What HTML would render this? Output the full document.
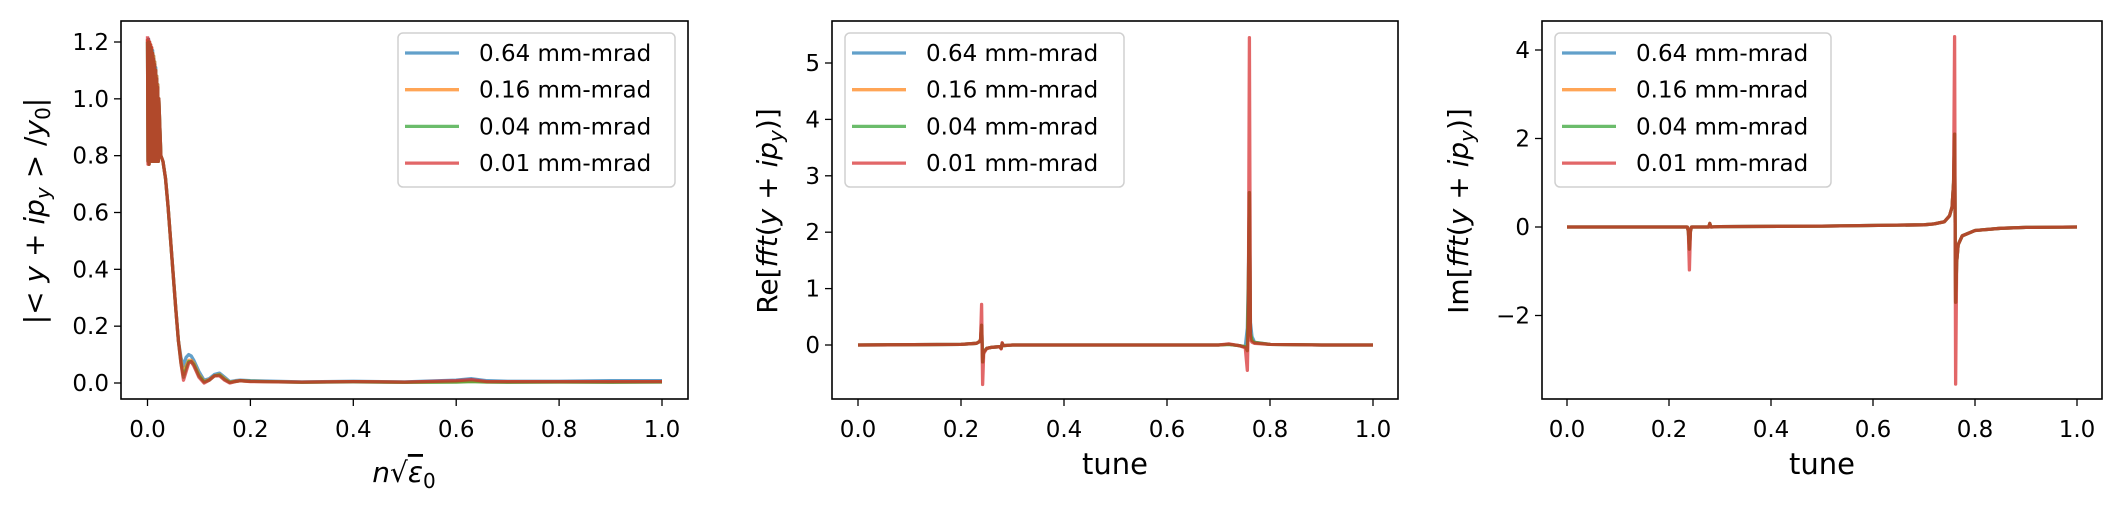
<!DOCTYPE html>
<html><head><meta charset="utf-8">
<style>
body{margin:0;background:#fff;}
svg{display:block;font-family:"DejaVu Sans","Liberation Sans",sans-serif;}
</style></head>
<body>
<svg id="fig" width="2127" height="508" viewBox="0 0 2127 508" xmlns="http://www.w3.org/2000/svg"></svg>
<script>
// ---------- data ----------
const seriesLabels = ["0.64 mm-mrad","0.16 mm-mrad","0.04 mm-mrad","0.01 mm-mrad"];
const seriesColors = ["#1f77b4","#ff7f0e","#2ca02c","#d62728"];

// panel 1: |<y+ip_y>/y0| vs n sqrt(eps0)
const p1X = [0,0.001,0.002,0.003,0.004,0.005,0.006,0.007,0.008,0.009,0.010,0.011,0.012,0.013,0.014,0.015,0.016,0.017,0.018,0.019,0.020,0.021,0.022,0.026,0.030,0.035,0.040,0.045,0.050,0.055,0.060,0.065,0.070,0.075,0.080,0.085,0.090,0.095,0.100,0.110,0.120,0.130,0.140,0.150,0.160,0.170,0.180,0.200,0.300,0.400,0.500,0.600,0.630,0.660,0.700,0.800,0.900,1.000];
const p1Blue   = [1.21,0.78,1.21,0.77,1.2,0.78,1.19,0.78,1.18,0.78,1.17,0.78,1.15,0.78,1.13,0.78,1.11,0.78,1.08,0.78,1.05,0.78,1.0,0.8,0.78,0.72,0.62,0.5,0.38,0.26,0.15,0.09,0.06,0.09,0.1,0.095,0.08,0.06,0.04,0.01,0.015,0.03,0.035,0.02,0.005,0.008,0.01,0.008,0.004,0.006,0.004,0.01,0.015,0.008,0.006,0.006,0.008,0.008];
const p1Orange = [1.21,0.78,1.2,0.77,1.2,0.78,1.19,0.78,1.18,0.78,1.16,0.78,1.15,0.78,1.13,0.78,1.1,0.78,1.08,0.78,1.05,0.78,1.0,0.8,0.78,0.72,0.62,0.5,0.38,0.26,0.15,0.08,0.03,0.06,0.08,0.08,0.07,0.05,0.03,0.005,0.012,0.025,0.03,0.015,0.003,0.006,0.008,0.006,0.003,0.005,0.003,0.004,0.006,0.004,0.004,0.004,0.004,0.005];
const p1Green  = [1.2,0.78,1.2,0.77,1.19,0.78,1.18,0.78,1.17,0.78,1.16,0.78,1.14,0.78,1.12,0.78,1.1,0.78,1.07,0.78,1.04,0.78,1.0,0.8,0.78,0.72,0.62,0.5,0.38,0.26,0.15,0.07,0.02,0.05,0.075,0.075,0.065,0.045,0.025,0.003,0.01,0.025,0.028,0.012,0.002,0.005,0.008,0.006,0.002,0.004,0.002,0.003,0.005,0.003,0.002,0.003,0.002,0.003];
const p1Red    = [1.22,0.77,1.21,0.77,1.2,0.78,1.19,0.78,1.18,0.78,1.16,0.78,1.14,0.78,1.12,0.78,1.1,0.78,1.07,0.78,1.04,0.78,1.0,0.8,0.78,0.72,0.62,0.5,0.38,0.26,0.15,0.07,0.01,0.04,0.07,0.075,0.06,0.04,0.02,0.0,0.01,0.025,0.025,0.01,0.0,0.005,0.008,0.005,0.003,0.005,0.003,0.008,0.012,0.005,0.005,0.005,0.005,0.005];

// panel 2: Re[fft]
const p2X = [0,0.2,0.23,0.236,0.238,0.240,0.242,0.244,0.25,0.26,0.275,0.278,0.28,0.282,0.3,0.5,0.7,0.72,0.74,0.752,0.756,0.758,0.760,0.762,0.765,0.77,0.8,0.9,1.0];
const p2Blue   = [0,0.01,0.03,0.06,0.1,0.35,-0.3,-0.12,-0.06,-0.04,-0.03,-0.06,0.03,-0.01,0,0,0,0.01,-0.01,-0.03,0.3,1.2,2.7,0.4,0.15,0.05,0.01,0,0];
const p2Orange = [0,0.01,0.03,0.06,0.1,0.35,-0.3,-0.12,-0.06,-0.04,-0.03,-0.06,0.03,-0.01,0,0,0,0.01,-0.01,-0.03,-0.1,1.0,2.7,0.2,0.08,0.04,0.01,0,0];
const p2Green  = [0,0.01,0.03,0.06,0.1,0.35,-0.3,-0.12,-0.06,-0.04,-0.03,-0.06,0.03,-0.01,0,0,0,0.01,-0.01,-0.03,-0.1,1.0,2.7,0.2,0.08,0.04,0.01,0,0];
const p2Red    = [0,0.01,0.03,0.06,0.1,0.72,-0.7,-0.15,-0.06,-0.04,-0.03,-0.07,0.04,-0.01,0,0,0,0.02,-0.01,-0.05,-0.45,0.5,5.45,0.1,0.05,0.03,0.01,0,0];

// panel 3: Im[fft]
const p3X = [0,0.2,0.236,0.238,0.240,0.242,0.244,0.26,0.278,0.28,0.282,0.3,0.5,0.7,0.72,0.74,0.75,0.755,0.758,0.760,0.762,0.764,0.767,0.775,0.8,0.85,0.9,1.0];
const p3Blue   = [0,0,0,-0.1,-0.5,-0.1,0,0,0,0.08,0,0.01,0.02,0.05,0.07,0.12,0.25,0.45,1.0,2.1,-1.7,-0.8,-0.4,-0.2,-0.08,-0.03,-0.01,0];
const p3Orange = [0,0,0,-0.1,-0.5,-0.1,0,0,0,0.08,0,0.01,0.02,0.05,0.07,0.12,0.25,0.45,1.0,2.1,-1.7,-0.8,-0.4,-0.2,-0.08,-0.03,-0.01,0];
const p3Green  = [0,0,0,-0.1,-0.5,-0.1,0,0,0,0.08,0,0.01,0.02,0.05,0.07,0.12,0.25,0.45,1.0,2.1,-1.7,-0.8,-0.4,-0.2,-0.08,-0.03,-0.01,0];
const p3Red    = [0,0,0,-0.1,-0.97,-0.1,0,0,0,0.08,0,0.01,0.02,0.05,0.07,0.12,0.25,0.45,1.0,4.3,-3.55,-0.8,-0.4,-0.2,-0.08,-0.03,-0.01,0];

const xTicks = [0,0.2,0.4,0.6,0.8,1.0];
const xTickLabels = ["0.0","0.2","0.4","0.6","0.8","1.0"];
const p1YTicks = [0,0.2,0.4,0.6,0.8,1.0,1.2];
const p1YTickLabels = ["0.0","0.2","0.4","0.6","0.8","1.0","1.2"];
const p2YTicks = [0,1,2,3,4,5];
const p2YTickLabels = ["0","1","2","3","4","5"];
const p3YTicks = [-2,0,2,4];
const p3YTickLabels = ["\u22122","0","2","4"];

// ---------- drawing ----------
const NS = "http://www.w3.org/2000/svg";
const svg = document.getElementById("fig");
function mk(tag, attrs, parent){
  const e = document.createElementNS(NS, tag);
  for (const k in attrs) e.setAttribute(k, attrs[k]);
  (parent||svg).appendChild(e);
  return e;
}

function panel(cfg){
  const g = mk("g", {});
  
  
  const sx = v => cfg.x0 + (v - 0) * (cfg.x1 - cfg.x0);
  const sy = v => cfg.yAt0 - v * cfg.yPerUnit;
  const clip = mk("clipPath", {id: cfg.name + "-clip"}, g);
  mk("rect", {x: cfg.L, y: cfg.T, width: cfg.R - cfg.L, height: cfg.B - cfg.T}, clip);
  cfg.series.forEach((vals, i) => {
    const d = vals.map((v, j) => (j ? "L" : "M") + sx(cfg.xs[j]).toFixed(2) + "," + sy(v).toFixed(1)).join(" ");
    const p = mk("path", {d: d, fill: "none", stroke: seriesColors[i], "stroke-width": 3.3, "stroke-opacity": 0.7, "stroke-linejoin": "round", "clip-path": "url(#" + cfg.name + "-clip)"}, g);
    
    
  });
  const fr = mk("rect", {x: cfg.L, y: cfg.T, width: cfg.R - cfg.L, height: cfg.B - cfg.T, fill: "none", stroke: "#000", "stroke-width": 1.6}, g);
  
  
  xTicks.forEach((t, i) => {
    const x = sx(t);
    mk("line", {x1: x, x2: x, y1: cfg.B, y2: cfg.B + 7, stroke: "#000", "stroke-width": 1.3}, g);
    const tx = mk("text", {x: x, y: cfg.B + 38, "font-size": 23, "text-anchor": "middle", fill: "#000"}, g);
    tx.textContent = xTickLabels[i];
    
    
  });
  cfg.yTicks.forEach((t, i) => {
    const y = sy(t);
    mk("line", {x1: cfg.L - 7, x2: cfg.L, y1: y, y2: y, stroke: "#000", "stroke-width": 1.3}, g);
    const tx = mk("text", {x: cfg.L - 12, y: y + 8, "font-size": 23, "text-anchor": "end", fill: "#000"}, g);
    tx.textContent = cfg.yTickLabels[i];
    
    
  });
  const lg = mk("g", {}, g);
  
  
  mk("rect", {x: cfg.lgL, y: 33, width: cfg.lgW, height: 154, rx: 5, fill: "#fff", "fill-opacity": 0.8, stroke: "#d0d0d0", "stroke-width": 1.5}, lg);
  seriesLabels.forEach((s, i) => {
    const y = 53 + i * 36.7;
    const ln = mk("line", {x1: cfg.lgL + 7, x2: cfg.lgL + 61, y1: y, y2: y, stroke: seriesColors[i], "stroke-width": 3.3, "stroke-opacity": 0.7}, lg);
    
    
    const tx = mk("text", {x: cfg.lgL + 81, y: y + 8, "font-size": 23, fill: "#000"}, lg);
    tx.textContent = s;
    
    
  });
  return g;
}

panel({name: "panel-magnitude", L: 121, R: 688, T: 21, B: 399, x0: 147.5, x1: 662, yAt0: 383, yPerUnit: (383 - 42) / 1.2,
  xs: p1X, series: [p1Blue, p1Orange, p1Green, p1Red], yTicks: p1YTicks, yTickLabels: p1YTickLabels, lgL: 398, lgW: 277});
panel({name: "panel-real", L: 832, R: 1398, T: 21, B: 399, x0: 858, x1: 1373, yAt0: 345, yPerUnit: 56.4,
  xs: p2X, series: [p2Blue, p2Orange, p2Green, p2Red], yTicks: p2YTicks, yTickLabels: p2YTickLabels, lgL: 845, lgW: 279});
panel({name: "panel-imag", L: 1542, R: 2102, T: 21, B: 399, x0: 1567, x1: 2077, yAt0: 227, yPerUnit: 44.25,
  xs: p3X, series: [p3Blue, p3Orange, p3Green, p3Red], yTicks: p3YTicks, yTickLabels: p3YTickLabels, lgL: 1555, lgW: 276});
</script>
<script>
(function(){
  const NS = "http://www.w3.org/2000/svg";
  const svg = document.getElementById("fig");
  function addText(html, attrs, name){
    const t = document.createElementNS(NS, "text");
    for (const k in attrs) t.setAttribute(k, attrs[k]);
    t.innerHTML = html;
    
    
    svg.appendChild(t);
  }
  addText('|&lt; <tspan font-style="italic">y</tspan> + <tspan font-style="italic">ip</tspan><tspan font-style="italic" font-size="20" dy="6">y</tspan><tspan dy="-6"> &gt; /</tspan><tspan font-style="italic">y</tspan><tspan font-size="20" dy="6">0</tspan><tspan dy="-6">|</tspan>',
    {x: 0, y: 0, "font-size": 28, "text-anchor": "middle", transform: "translate(44,211) rotate(-90)"}, "y-axis-title-magnitude");
  addText('<tspan font-style="italic">n</tspan>√<tspan font-style="italic" text-decoration="overline">ε</tspan><tspan font-size="20" dy="6">0</tspan>',
    {x: 404, y: 482, "font-size": 28, "text-anchor": "middle"}, "x-axis-title-magnitude");
  addText('Re[<tspan font-style="italic">fft</tspan>(<tspan font-style="italic">y</tspan> + <tspan font-style="italic">ip</tspan><tspan font-style="italic" font-size="20" dy="6">y</tspan><tspan dy="-6">)]</tspan>',
    {x: 0, y: 0, "font-size": 28, "text-anchor": "middle", transform: "translate(777,211) rotate(-90)"}, "y-axis-title-real");
  addText('tune', {x: 1115, y: 474, "font-size": 29, "text-anchor": "middle"}, "x-axis-title-real");
  addText('Im[<tspan font-style="italic">fft</tspan>(<tspan font-style="italic">y</tspan> + <tspan font-style="italic">ip</tspan><tspan font-style="italic" font-size="20" dy="6">y</tspan><tspan dy="-6">)]</tspan>',
    {x: 0, y: 0, "font-size": 28, "text-anchor": "middle", transform: "translate(1468,211) rotate(-90)"}, "y-axis-title-imag");
  addText('tune', {x: 1822, y: 474, "font-size": 29, "text-anchor": "middle"}, "x-axis-title-imag");
})();
</script>
</body></html>
